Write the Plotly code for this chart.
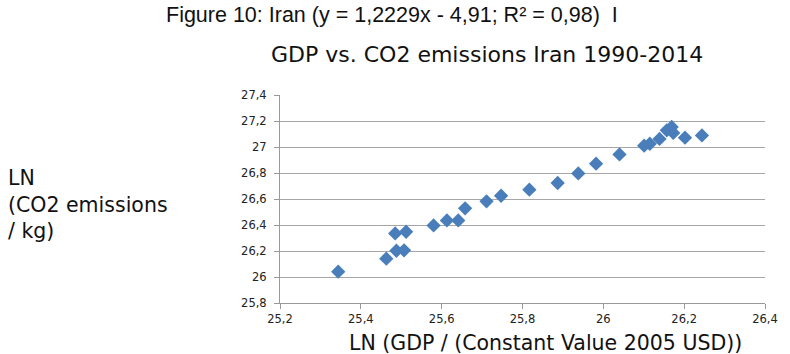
import plotly.graph_objects as go

# Data: LN(GDP) vs LN(CO2 emissions), Iran 1990-2014
ln_gdp = [25.344, 25.463, 25.485, 25.488, 25.507, 25.512, 25.580, 25.613, 25.641,
          25.658, 25.711, 25.747, 25.817, 25.887, 25.938, 25.982, 26.040, 26.101,
          26.115, 26.139, 26.157, 26.169, 26.173, 26.202, 26.244]
ln_co2 = [26.041, 26.141, 26.335, 26.202, 26.205, 26.348, 26.397, 26.435, 26.435,
          26.528, 26.582, 26.625, 26.672, 26.723, 26.797, 26.872, 26.943, 27.010,
          27.025, 27.062, 27.128, 27.154, 27.108, 27.072, 27.089]

x_ticks = [25.2, 25.4, 25.6, 25.8, 26.0, 26.2, 26.4]
y_ticks = [25.8, 26.0, 26.2, 26.4, 26.6, 26.8, 27.0, 27.2, 27.4]

W, H = 790, 354
L, R, T, B = 280, 18, 95, 51
pw, ph = W - L - R, H - T - B

def px(x):
    return (x - L) / pw

def py(y):
    return (H - B - y) / ph

fig = go.Figure()
fig.add_trace(go.Scatter(
    x=ln_gdp, y=ln_co2, mode="markers",
    marker=dict(symbol="diamond", size=11, color="#4a7ebb",
                line=dict(width=0)),
    hoverinfo="x+y", showlegend=False,
))

tickfont = dict(family="DejaVu Sans, sans-serif", size=11.5, color="#222")
fig.update_layout(
    width=W, height=H,
    margin=dict(l=L, r=R, t=T, b=B),
    paper_bgcolor="white", plot_bgcolor="white",
    separators=", ",
    font=dict(family="DejaVu Sans, sans-serif", color="#222"),
    xaxis=dict(range=[25.2, 26.4], tickvals=x_ticks, showgrid=False,
               showline=True, linecolor="#999", linewidth=1,
               ticks="outside", ticklen=5, tickcolor="#999",
               tickfont=tickfont, zeroline=False),
    yaxis=dict(range=[25.8, 27.4], tickvals=y_ticks, showgrid=True,
               gridcolor="#a6a6a6", gridwidth=1,
               showline=True, linecolor="#999", linewidth=1,
               ticks="outside", ticklen=5, tickcolor="#999",
               ticklabelstandoff=5,
               tickfont=tickfont, zeroline=False),
    annotations=[
        dict(text="Figure 10: Iran (y = 1,2229x - 4,91; R² = 0,98)  I",
             xref="paper", yref="paper", x=px(394), y=py(15),
             xanchor="center", yanchor="middle", showarrow=False,
             font=dict(family="Liberation Sans, Arial, sans-serif",
                       size=21.5, color="#111")),
        dict(text="GDP vs. CO2 emissions Iran 1990-2014",
             xref="paper", yref="paper", x=px(490), y=py(54),
             xanchor="center", yanchor="middle", showarrow=False,
             font=dict(family="DejaVu Sans, sans-serif", size=22, color="#111")),
        dict(text="LN<br>(CO2 emissions<br>/ kg)",
             xref="paper", yref="paper", x=px(2), y=py(204),
             xanchor="left", yanchor="middle", align="left", showarrow=False,
             font=dict(family="DejaVu Sans, sans-serif", size=20.5, color="#111")),
        dict(text="LN (GDP / (Constant Value 2005 USD))",
             xref="paper", yref="paper", x=px(549), y=py(343),
             xanchor="center", yanchor="middle", showarrow=False,
             font=dict(family="DejaVu Sans, sans-serif", size=20.5, color="#111")),
    ],
)

fig.write_html("out.html")
